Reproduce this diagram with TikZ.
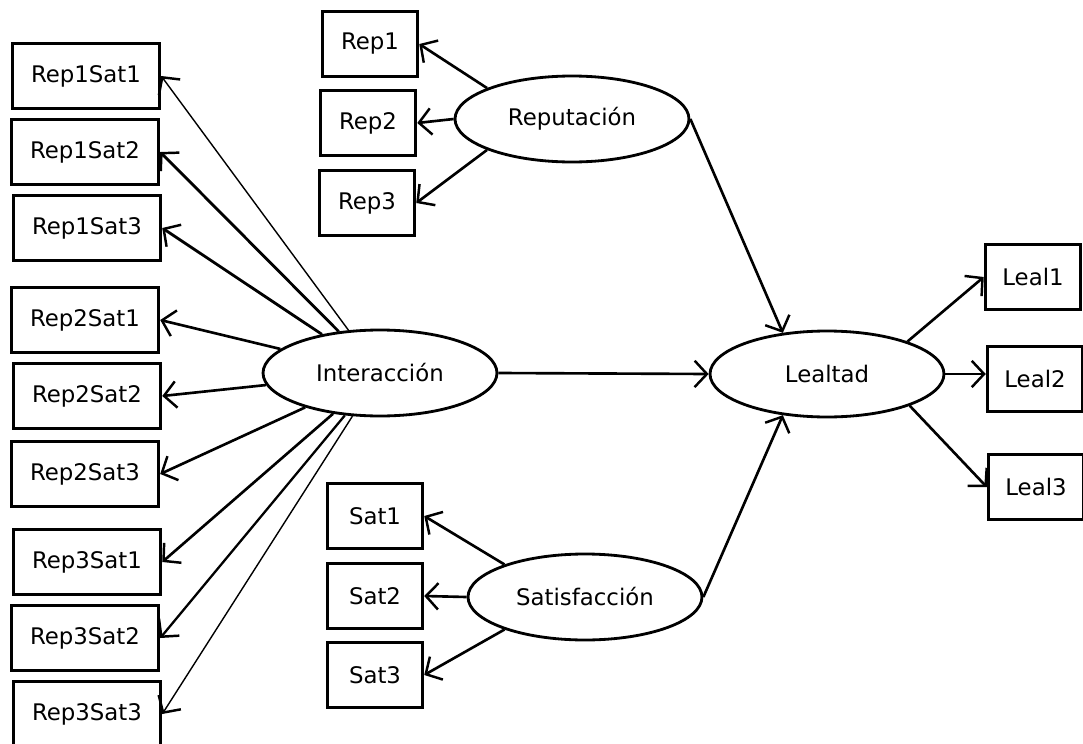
\documentclass[tikz,border=0pt]{standalone}
\usepackage{fontspec}
\setmainfont{DejaVu Sans}
\usetikzlibrary{
  shapes.geometric,
  arrows.meta,
  }

\begin{document}
\begin{tikzpicture}
                [x=0.02cm, y=-0.02cm,
                 every node/.style={font=\fontsize{13}{15}\selectfont},
                 item/.style={draw, line width=2pt, minimum width=2.94cm, minimum height=1.3cm, inner sep=0pt},
                 ind/.style={item, minimum width=1.9cm},
                 latent/.style={ellipse, draw, line width=1.6pt, minimum width=4.68cm, minimum height=1.72cm, inner sep=0pt},
                 link/.style={line width=1.5pt, -{Straight Barb[length=7pt,width=15pt,line width=1.4pt]}}]
                \useasboundingbox (0, 0) rectangle (1083, 744);

                % latent variables
                \node[latent] (int) at (380, 373) {Interacción};
                \node[latent] (rep) at (572, 119) {Reputación};
                \node[latent] (sat) at (585, 597) {Satisfacción};
                \node[latent] (leal) at (827, 374) {Lealtad};

                % interaction indicators
                \node[item] (r11) at (86, 76) {Rep1Sat1};
                \node[item] (r12) at (85, 152) {Rep1Sat2};
                \node[item] (r13) at (87, 228) {Rep1Sat3};
                \node[item] (r21) at (85, 320) {Rep2Sat1};
                \node[item] (r22) at (87, 396) {Rep2Sat2};
                \node[item] (r23) at (85, 474) {Rep2Sat3};
                \node[item] (r31) at (87, 562) {Rep3Sat1};
                \node[item] (r32) at (85, 638) {Rep3Sat2};
                \node[item] (r33) at (87, 714) {Rep3Sat3};

                % other indicators
                \node[ind] (p1) at (370, 44) {Rep1};
                \node[ind] (p2) at (368, 123) {Rep2};
                \node[ind] (p3) at (367, 203) {Rep3};
                \node[ind] (s1) at (375, 516) {Sat1};
                \node[ind] (s2) at (375, 596) {Sat2};
                \node[ind] (s3) at (375, 675) {Sat3};
                \node[ind] (l1) at (1033, 277) {Leal1};
                \node[ind] (l2) at (1035, 379) {Leal2};
                \node[ind] (l3) at (1036, 487) {Leal3};

                \foreach \to/\lw in {r11/0.8pt,r12/1.6pt,r13/1.6pt,r21/1.5pt,r22/1.5pt,r23/1.5pt,r31/1.5pt,r32/1.3pt,r33/0.8pt}
                    \draw[link, line width=\lw] (int) -- (\to.east);

                \foreach \from\to in {rep.160/p1,rep.west/p2,rep.200/p3,sat.158/s1,sat.west/s2,sat.202/s3}
                    \draw[link] (\from) -- (\to.east);

                \draw[link] (rep.east) -- (leal.137);
                \draw[link] (sat.east) -- (leal.223);
                \draw[link] (int.east) -- (leal.west);
                \draw[link] (leal.22) -- (l1.west);
                \draw[link] (leal.east) -- (l2.west |- leal.east);
                \draw[link] (leal.-21) -- (l3.west);

            \end{tikzpicture}
\end{document}
